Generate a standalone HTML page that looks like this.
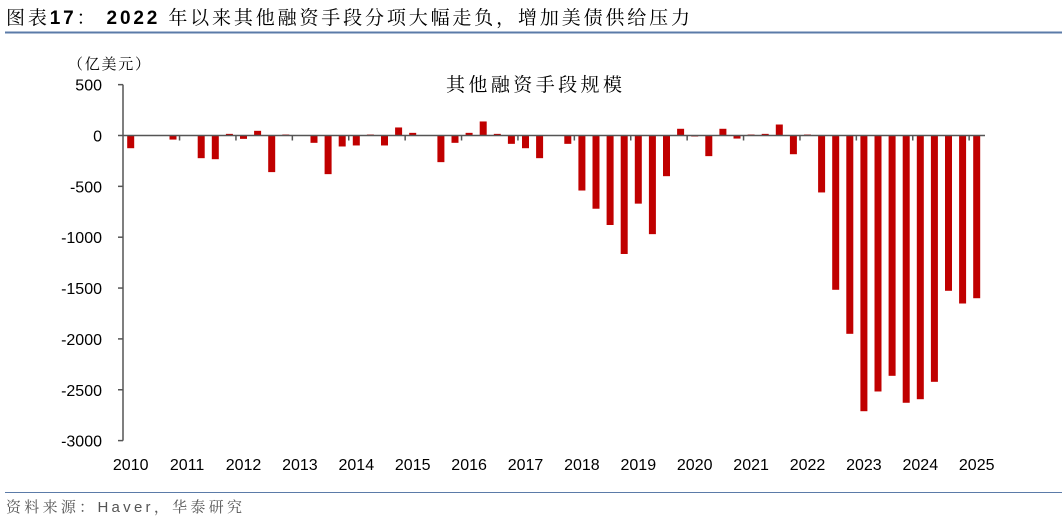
<!DOCTYPE html>
<html><head><meta charset="utf-8"><style>
body{margin:0;width:1062px;height:522px;background:#fff;overflow:hidden;font-family:"Liberation Sans","Noto Sans CJK SC",sans-serif}
</style></head><body>
<svg width="1062" height="522" xmlns="http://www.w3.org/2000/svg">
<text x="6" y="24" font-size="19" fill="#000" textLength="684" lengthAdjust="spacing" font-family="Liberation Sans,Noto Serif CJK SC,sans-serif">图表<tspan font-weight="bold">17</tspan>： <tspan font-weight="bold">2022</tspan> 年以来其他融资手段分项大幅走负，增加美债供给压力</text>
<line x1="5" y1="32.5" x2="1062" y2="32.5" stroke="#5b7ba8" stroke-width="2"/>
<text x="68" y="69" font-size="15" textLength="82" lengthAdjust="spacing" font-family="Noto Serif CJK SC,sans-serif">（亿美元）</text>
<text x="446" y="91" font-size="19" textLength="176" lengthAdjust="spacing" font-family="Noto Serif CJK SC,sans-serif">其他融资手段规模</text>
<g id="yaxis"></g>
<g id="xaxis"></g>
<g id="bars"></g>
<line id="zero" stroke="#555" stroke-width="1.5"/>
<text x="6" y="512" font-size="15" fill="#555" textLength="236" lengthAdjust="spacing" font-family="Liberation Sans,Noto Serif CJK SC,sans-serif">资料来源：Haver，华泰研究</text>
<line x1="5" y1="492.5" x2="1062" y2="492.5" stroke="#5b7ba8" stroke-width="1"/>
</svg>
<script>
const years=["2010","2011","2012","2013","2014","2015","2016","2017","2018","2019","2020","2021","2022","2023","2024","2025"];
const yTicks=[500,0,-500,-1000,-1500,-2000,-2500,-3000];
const values=[-125,0,0,-40, 0,-223,-233,16, -33,46,-360,10, 0,-72,-380,-108, -98,10,-98,79, 26,0,-262,-72, 26,138,16,-82, -125,-223,0,-82, -541,-720,-880,-1165, -670,-970,-400,66, -10,-203,66,-30, 10,16,108,-184, 10,-560,-1517,-1950, -2711,-2517,-2363,-2628, -2593,-2422,-1527,-1652, -1600];
const NS="http://www.w3.org/2000/svg";
const y0=135.5,k=0.1017,axX=123,x0=130.7,pitch=14.1,bw=7;
const Y=v=>y0-v*k, X=i=>x0+i*pitch;
function mk(t,a,p){const e=document.createElementNS(NS,t);for(const n in a)e.setAttribute(n,a[n]);p.appendChild(e);return e;}
const ya=document.getElementById('yaxis'),xa=document.getElementById('xaxis'),bg=document.getElementById('bars');
mk('line',{x1:axX,y1:Y(500),x2:axX,y2:Y(-3000),stroke:'#555','stroke-width':1.5},ya);
yTicks.forEach(v=>{
 mk('line',{x1:axX-5,y1:Y(v),x2:axX,y2:Y(v),stroke:'#555','stroke-width':1.5},ya);
 const t=mk('text',{x:102,y:Y(v)+6,'font-size':16,'text-anchor':'end'},ya);
 
 
 t.textContent=v;
});
years.forEach((yr,j)=>{
 const tx=X(j*4)-pitch/2-0.5;
 if(j>0)mk('line',{x1:tx,y1:y0,x2:tx,y2:y0+5,stroke:'#555','stroke-width':1.5},xa);
 const t=mk('text',{x:X(j*4),y:470,'font-size':16,'text-anchor':'middle'},xa);
 
 
 t.textContent=yr;
});
values.forEach((v,i)=>{
 if(v===0)return;
 const r=mk('rect',{x:X(i)-bw/2,y:Math.min(Y(v),y0),width:bw,height:Math.abs(Y(v)-y0),fill:'#c00000'},bg);
 
 
});
const z=document.getElementById('zero');
z.setAttribute('x1',axX);z.setAttribute('x2',985);z.setAttribute('y1',y0);z.setAttribute('y2',y0);
</script>
</body></html>
